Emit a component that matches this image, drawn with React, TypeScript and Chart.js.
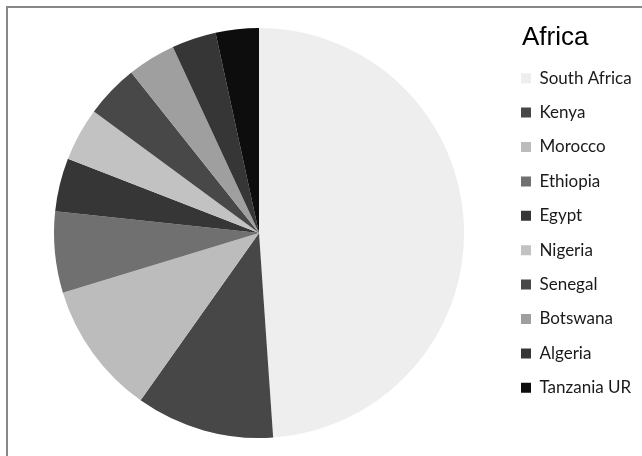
import React, { useEffect, useRef } from "react";
import { Chart, registerables } from "chart.js";

Chart.register(...registerables);

const chartTitle = "Africa";
const countries = [
  "South Africa",
  "Kenya",
  "Morocco",
  "Ethiopia",
  "Egypt",
  "Nigeria",
  "Senegal",
  "Botswana",
  "Algeria",
  "Tanzania UR",
];
const shares = [48.9, 10.9, 10.5, 6.4, 4.2, 4.2, 4.2, 3.8, 3.5, 3.4];
const sliceColors = [
  "#eeeeee",
  "#474747",
  "#bcbcbc",
  "#707070",
  "#363636",
  "#c2c2c2",
  "#484848",
  "#9f9f9f",
  "#363636",
  "#0d0d0d",
];

const W = 642;
const H = 456;
const FONT_SIZE = 17;
const FONT_FAMILY = "Lato, 'Noto Sans', sans-serif";
const BOX = 10;
const PAD = 17.4;
const LEGEND_X = 521; // left of legend boxes
const CENTER_X = 259;

export default function App() {
  const ref = useRef<HTMLCanvasElement | null>(null);

  useEffect(() => {
    if (!ref.current) return;
    const m = document.createElement("canvas").getContext("2d")!;
    m.font = `${FONT_SIZE}px ${FONT_FAMILY}`;
    const maxW = Math.max(...countries.map((c) => m.measureText(c).width));
    const legendW = PAD + (BOX + FONT_SIZE / 2 + maxW) + 10;
    const legendLeft = LEGEND_X - PAD;
    const padRight = W - legendLeft - legendW;
    const padLeft = 2 * CENTER_X - legendLeft;

    const titlePlugin = {
      id: "legendTitleDraw",
      afterDraw(chart: any) {
        const c = chart.ctx;
        const lg = chart.legend;
        c.save();
        c.font = "26px 'Liberation Sans', Arial, sans-serif";
        c.fillStyle = "#000000";
        c.textAlign = "left";
        c.textBaseline = "alphabetic";
        c.fillText(chartTitle, lg.left + PAD + 1, 44.5);
        c.restore();
      },
    };

    const chart = new Chart(ref.current, {
      type: "pie",
      data: {
        labels: countries,
        datasets: [
          {
            data: shares,
            backgroundColor: sliceColors,
            borderWidth: 0,
          },
        ],
      },
      options: {
        responsive: false,
        animation: false,
        devicePixelRatio: 1,
        layout: {
          padding: { top: 28, bottom: 18, left: padLeft, right: padRight },
        },
        plugins: {
          tooltip: { enabled: false },
          legend: {
            position: "right",
            align: "center",
            labels: {
              boxWidth: BOX,
              boxHeight: BOX,
              padding: PAD,
              color: "#1a1a1a",
              font: { size: FONT_SIZE, family: FONT_FAMILY },
            },
          },
        },
      },
      plugins: [titlePlugin],
    });
    return () => chart.destroy();
  }, []);

  return (
    <div
      style={{
        position: "fixed",
        left: 0,
        top: 0,
        width: W,
        height: H,
        overflow: "hidden",
        background: "#ffffff",
      }}
    >
      <div
        style={{
          position: "absolute",
          left: 6,
          top: 6,
          width: 800,
          height: 600,
          borderLeft: "2px solid #888888",
          borderTop: "2px solid #888888",
          boxSizing: "border-box",
        }}
      />
      <canvas
        ref={ref}
        width={W}
        height={H}
        style={{ position: "absolute", left: 0, top: 0, width: W, height: H }}
      />
    </div>
  );
}
